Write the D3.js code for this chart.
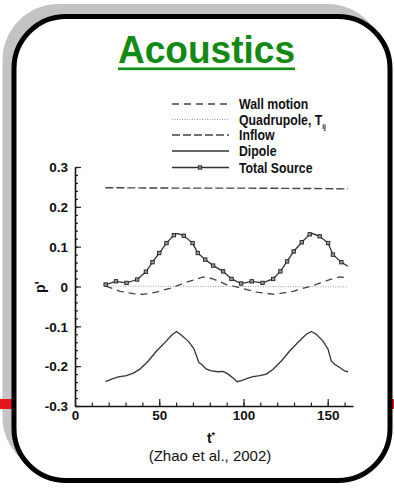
<!DOCTYPE html>
<html>
<head>
<meta charset="utf-8">
<script src="https://cdn.jsdelivr.net/npm/d3@7"></script>
<style>
  html, body { margin: 0; padding: 0; background: #fff; }
  svg { display: block; }
  text { font-family: "Liberation Sans", Arial, sans-serif; }
</style>
</head>
<body>
<svg id="chart" width="394" height="491"></svg>
<script>
// Time samples (t*) and acoustic pressure p' for each source term
const totalT = [18.2, 24.3, 30.6, 36.9, 42.1, 46, 50, 54.3, 58.7, 61, 64.6, 69.8, 72.9, 77.3, 82, 87.9, 92.9, 98.6,
                104.9, 111.3, 117.6, 121.9, 125.9, 129.8, 134.6, 139.3, 141, 145.2, 150.2, 153.1, 158.1, 162];
const totalP = [0.005, 0.013, 0.009, 0.0175, 0.037, 0.061, 0.084, 0.109, 0.129, 0.133, 0.1275, 0.109, 0.084, 0.0675, 0.0525, 0.038, 0.019, 0.0075,
                0.013, 0.009, 0.019, 0.038, 0.063, 0.088, 0.111, 0.131, 0.133, 0.126, 0.109, 0.08, 0.061, 0.051];
// markers are drawn on the sampled points only (not on the interpolated peak vertices)
const totalMarked = [1,1,1,1,1,1,1,1,1,0,1,1,1,1,1,1,1,1, 1,1,1,1,1,1,1,1,0,1,1,1,1,0];

const dipoleT = [18.2, 21.7, 25.7, 30.6, 34.6, 38.5, 43.5, 48.4, 53.3, 57.3, 60.3, 63.2, 67.2, 70.5, 72.1, 73.5, 75.1, 78, 81, 84.9,
                 87.9, 90.9, 93.8, 96.2, 98.8, 102.7, 105.7, 109.7, 113.6, 117.6, 122.5, 127.4, 132.4, 137.3, 140.3, 143.2,
                 147.2, 150.2, 152.1, 154.1, 157.1, 160, 162];
const dipoleP = [-0.239, -0.2325, -0.227, -0.224, -0.2175, -0.2075, -0.187, -0.162, -0.141, -0.1225, -0.113, -0.1225, -0.137, -0.156, -0.174, -0.191, -0.195, -0.2075, -0.212, -0.214,
                 -0.213, -0.22, -0.23, -0.239, -0.236, -0.23, -0.226, -0.224, -0.22, -0.2075, -0.187, -0.162, -0.14, -0.12, -0.113, -0.12,
                 -0.137, -0.1575, -0.187, -0.195, -0.2035, -0.212, -0.214];

const wallT = [18.2, 26.7, 34.6, 40.5, 48.4, 58.3, 66.2, 76.1, 82, 89.9, 97.8, 107.7, 118.6, 129.4, 141.3, 151.2, 157.1, 162];
const wallP = [0.001, -0.012, -0.018, -0.02, -0.014, -0.002, 0.011, 0.024, 0.019, 0.005, -0.003, -0.014, -0.02, -0.012, 0.0025, 0.0175, 0.024, 0.022];

const inflowT = [18, 60, 100, 140, 162];
const inflowP = [0.248, 0.247, 0.247, 0.246, 0.245];

const quadT = [18, 162];
const quadP = [0.001, -0.001];

const xTicks = [0, 50, 100, 150];
const yTicks = [-0.3, -0.2, -0.1, 0, 0.1, 0.2, 0.3];
const legendNames = ["Wall motion", "Quadrupole, T", "Inflow", "Dipole", "Total Source"];

const svg = d3.select("#chart");

// ---- rounded panel with offset grey shadow and red rule behind ----
svg.append("rect").attr("x", 2.5).attr("y", 4).attr("width", 381).attr("height", 469)
   .attr("rx", 56).attr("fill", "#c3c3c3");
svg.append("rect").attr("x", 0).attr("y", 399).attr("width", 394).attr("height", 10)
   .attr("fill", "#e3161c");
svg.append("rect").attr("x", 14).attr("y", 16.5).attr("width", 376).attr("height", 464)
   .attr("rx", 52).attr("fill", "#fff").attr("stroke", "#000").attr("stroke-width", 5);

// ---- title ----
svg.append("text").attr("x", 206.5).attr("y", 63).attr("text-anchor", "middle")
   .attr("font-size", 38).attr("font-weight", "bold").attr("fill", "#138a13")
   .attr("textLength", 177).attr("lengthAdjust", "spacingAndGlyphs")
   .text("Acoustics");
svg.append("rect").attr("x", 118).attr("y", 67.5).attr("width", 177).attr("height", 2.6).attr("fill", "#138a13");

// ---- scales and axes ----
const x = d3.scaleLinear().domain([0, 165]).range([75, 353]);
const y = d3.scaleLinear().domain([-0.3, 0.3]).range([406, 167]);
const fmt = d => d === 0 ? "0" : d.toFixed(1);

const yMinor = d3.range(-0.3, 0.3001, 0.02).map(v => +v.toFixed(2));
const xMinor = d3.range(0, 161, 10);

svg.append("g").attr("transform", `translate(${x(0)},0)`)
   .call(d3.axisLeft(y).tickValues(yMinor).tickSize(-3).tickFormat(""))
   .call(g => g.select(".domain").remove());
svg.append("g").attr("transform", `translate(0,${y(-0.3)})`)
   .call(d3.axisBottom(x).tickValues(xMinor).tickSize(-3.5).tickFormat(""))
   .call(g => g.select(".domain").remove());

const yAxis = svg.append("g").attr("transform", `translate(${x(0)},0)`)
   .call(d3.axisLeft(y).tickValues(yTicks).tickSize(-6).tickPadding(7).tickFormat(fmt).tickSizeOuter(0));
const xAxis = svg.append("g").attr("transform", `translate(0,${y(-0.3)})`)
   .call(d3.axisBottom(x).tickValues(xTicks).tickSize(-7).tickPadding(4).tickSizeOuter(0));

svg.selectAll(".tick line").attr("stroke", "#222").attr("stroke-width", 1.2);
svg.selectAll(".domain").attr("stroke", "#111").attr("stroke-width", 1.6);
svg.selectAll(".tick text").attr("font-family", "'Liberation Sans', Arial, sans-serif")
   .attr("font-size", 13.5).attr("font-weight", "bold").attr("fill", "#111");
yAxis.selectAll(".tick text").attr("dy", "0.35em");

// axis titles
svg.append("text").attr("transform", "translate(45,287) rotate(-90)")
   .attr("text-anchor", "middle").attr("font-size", 14).attr("font-weight", "bold").attr("fill", "#111")
   .text("p'");
const tx = svg.append("text").attr("x", 211).attr("y", 443).attr("text-anchor", "middle")
   .attr("font-size", 14).attr("font-weight", "bold").attr("fill", "#111");
tx.append("tspan").text("t");
tx.append("tspan").attr("font-size", 9).attr("dy", -5).text("*");
svg.append("text").attr("x", 210).attr("y", 461).attr("text-anchor", "middle")
   .attr("font-size", 15).attr("fill", "#111").text("(Zhao et al., 2002)");

// ---- series ----
const line = d3.line().x(d => x(d[0])).y(d => y(d[1])).curve(d3.curveLinear);
const zipped = (ts, ps) => ts.map((t, i) => [t, ps[i]]);
const ink = "#333";

const styles = {
  wall:   { dash: "7,5", width: 1.3, color: "#444" },
  quad:   { dash: "1,1.5", width: 1, color: "#999" },
  inflow: { dash: "8,3", width: 1.4, color: "#444" },
  dipole: { dash: null, width: 1.3, color: ink },
  total:  { dash: null, width: 1.3, color: ink }
};

function drawSeries(data, st) {
  svg.append("path").datum(data).attr("d", line).attr("fill", "none")
     .attr("stroke", st.color).attr("stroke-width", st.width)
     .attr("stroke-dasharray", st.dash);
}
drawSeries(zipped(quadT, quadP), styles.quad);
drawSeries(zipped(inflowT, inflowP), styles.inflow);
drawSeries(zipped(wallT, wallP), styles.wall);
drawSeries(zipped(dipoleT, dipoleP), styles.dipole);
const totalData = zipped(totalT, totalP);
drawSeries(totalData, styles.total);
const mk = 3.4;
svg.append("g").selectAll("rect").data(totalData.filter((d, i) => totalMarked[i]))
   .join("rect")
   .attr("x", d => x(d[0]) - mk / 2).attr("y", d => y(d[1]) - mk / 2)
   .attr("width", mk).attr("height", mk)
   .attr("fill", "#999").attr("stroke", "#222").attr("stroke-width", 0.9);

// ---- legend ----
const legendY = [104, 119.5, 135, 151, 167.5];
const legendStyles = [styles.wall, styles.quad, styles.inflow, styles.dipole, styles.total];
const lg = svg.append("g");
legendNames.forEach((name, i) => {
  const st = legendStyles[i];
  lg.append("line").attr("x1", 172).attr("x2", 229).attr("y1", legendY[i]).attr("y2", legendY[i])
    .attr("stroke", st.color).attr("stroke-width", st.width).attr("stroke-dasharray", st.dash);
  const t = lg.append("text").attr("transform", `translate(239,${legendY[i] + 5}) scale(0.82,1)`)
    .attr("font-size", 15).attr("font-weight", "bold").attr("fill", "#111");
  t.append("tspan").text(name);
  if (i === 1) t.append("tspan").attr("font-size", 8).attr("dy", 4).text("ij");
});
lg.append("rect").attr("x", 200 - mk / 2).attr("y", legendY[4] - mk / 2).attr("width", mk).attr("height", mk)
  .attr("fill", "#999").attr("stroke", "#222").attr("stroke-width", 0.9);
</script>
</body>
</html>
